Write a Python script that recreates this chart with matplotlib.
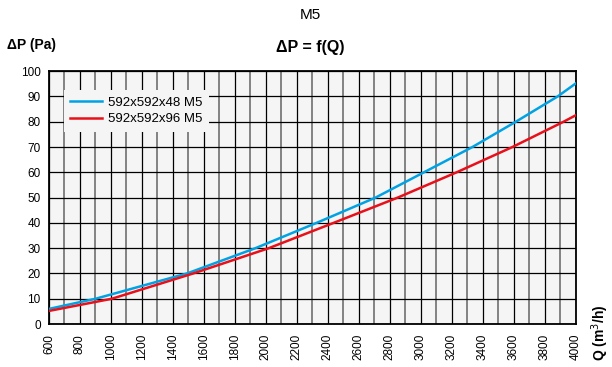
import matplotlib
matplotlib.use("Agg")
import matplotlib.pyplot as plt
import numpy as np

plt.rcParams['font.family'] = ['Liberation Sans', 'DejaVu Sans']

# Flow Q (m3/h) and pressure drop (Pa)
q_48 = [600, 900, 1490, 1932, 2326, 2707, 3019, 3332, 3612, 3882, 4000]
dp_48 = [6.0, 10, 20, 30, 40, 50, 60, 70, 80, 90, 95.2]
q_96 = [600, 1005, 1530, 2018, 2436, 2850, 3230, 3590, 3920, 4000]
dp_96 = [5.2, 10, 20, 30, 40, 50, 60, 70, 80, 82.6]
labels = ['592x592x48 M5', '592x592x96 M5']

fig = plt.figure(figsize=(6.12, 3.67), dpi=100)
ax = fig.add_axes([0.080, 0.117, 0.861, 0.689])
ax.set_facecolor('#f5f5f5')

ax.plot(q_48, dp_48, color='#00a2e4', lw=1.8, label=labels[0], zorder=3)
ax.plot(q_96, dp_96, color='#e8101a', lw=1.8, label=labels[1], zorder=3)

ax.set_xlim(600, 4000)
ax.set_ylim(0, 100)
ax.set_xticks(np.arange(600, 4001, 200))
ax.set_xticks(np.arange(700, 4000, 200), minor=True)
ax.set_yticks(np.arange(0, 101, 10))
ax.grid(which='major', axis='both', color='black', lw=0.9)
ax.grid(which='minor', axis='x', color='#7a7a7a', lw=1.3)
ax.tick_params(which='both', length=0, labelsize=8.5)
ax.tick_params(axis='x', labelrotation=90, pad=7)
ax.tick_params(axis='y', pad=6)
for s in ax.spines.values():
    s.set_linewidth(1.3)

leg = ax.legend(loc='upper left', bbox_to_anchor=(0.028, 0.925), fontsize=9.5,
                frameon=True, fancybox=False, facecolor='#f5f5f5', edgecolor='none',
                framealpha=1, handlelength=2.4, handletextpad=0.45, labelspacing=0.3,
                borderpad=0.5, borderaxespad=0)

fig.text(0.507, 0.96, 'M5', ha='center', va='center', fontsize=11)
fig.text(0.507, 0.87, 'ΔP = f(Q)', ha='center', va='center', fontsize=11.5, fontweight='bold')
fig.text(0.012, 0.877, 'ΔP (Pa)', ha='left', va='center', fontsize=10, fontweight='bold')
fig.text(0.981, 0.015, 'Q (m$^3$/h)', ha='center', va='bottom', rotation=90,
         fontsize=10, fontweight='bold')

fig.savefig('out.png', dpi=100)
